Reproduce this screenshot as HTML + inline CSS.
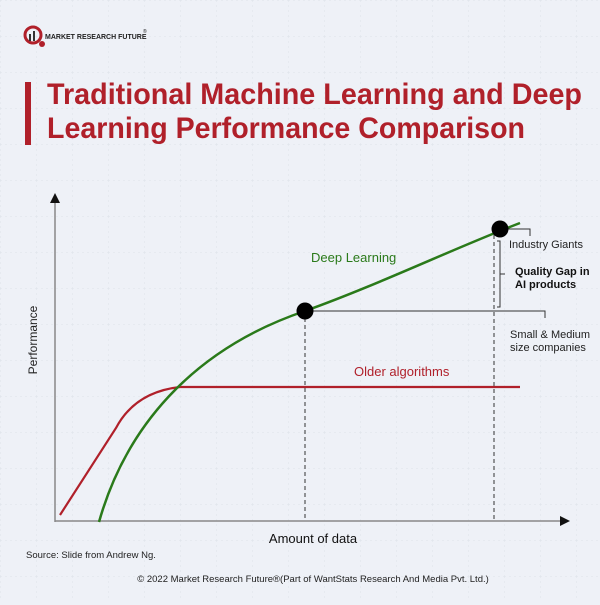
<!DOCTYPE html>
<html><head><meta charset="utf-8"><style>
body{margin:0;width:600px;height:600px;overflow:hidden;background:#eef1f7;font-family:"Liberation Sans",sans-serif}
</style></head><body>
<svg width="600" height="600" viewBox="0 0 600 600" xmlns="http://www.w3.org/2000/svg">
<defs><pattern id="g" width="36" height="36" patternUnits="userSpaceOnUse"><path d="M0 0H36M0 0V36" stroke="#dde2ea" stroke-width="1" stroke-dasharray="2 3" fill="none"/></pattern></defs>
<rect width="600" height="600" fill="#eef1f7"/>
<rect width="600" height="600" fill="url(#g)"/>
<circle cx="33" cy="35" r="8" fill="none" stroke="#b0202a" stroke-width="3"/>
<rect x="29" y="34" width="2" height="7" fill="#333"/><rect x="33" y="31" width="2" height="10" fill="#333"/>
<circle cx="42" cy="44" r="3" fill="#b0202a"/>
<text x="45" y="39" font-size="7" font-weight="bold" fill="#222">MARKET RESEARCH FUTURE</text>
<text x="143" y="33" font-size="5" fill="#222">®</text>
<rect x="25" y="82" width="6" height="63" fill="#b0202a"/>
<text x="47" y="104" font-size="30" font-weight="bold" fill="#b0202a" textLength="535" lengthAdjust="spacingAndGlyphs">Traditional Machine Learning and Deep</text>
<text x="47" y="138" font-size="30" font-weight="bold" fill="#b0202a" textLength="478" lengthAdjust="spacingAndGlyphs">Learning Performance Comparison</text>
<line x1="55" y1="200" x2="55" y2="522" stroke="#888" stroke-width="1.5"/>
<path d="M50 203L55 193L60 203Z" fill="#111"/>
<line x1="55" y1="521" x2="562" y2="521" stroke="#888" stroke-width="1.5"/>
<path d="M560 516L570 521L560 526Z" fill="#111"/>
<text transform="translate(37,340) rotate(-90)" font-size="12" fill="#222" text-anchor="middle">Performance</text>
<text x="313" y="543" font-size="13" fill="#111" text-anchor="middle">Amount of data</text>
<line x1="305" y1="311" x2="305" y2="521" stroke="#333" stroke-dasharray="4 3"/>
<line x1="494" y1="235" x2="494" y2="521" stroke="#333" stroke-dasharray="4 3"/>
<path d="M60 515L116 428Q135 392 180 387L520 387" fill="none" stroke="#b0202a" stroke-width="2.2"/>
<path d="M99 522C125 430 190 350 305 311C380 284 450 250 520 223" fill="none" stroke="#2a7a1a" stroke-width="2.5"/>
<path d="M305 311H545V318" fill="none" stroke="#333"/>
<path d="M500 229H530V236" fill="none" stroke="#333"/>
<path d="M497 241H500V307H497M500 274H505" fill="none" stroke="#333"/>
<circle cx="305" cy="311" r="8.5" fill="#000"/>
<circle cx="500" cy="229" r="8.5" fill="#000"/>
<text x="311" y="262" font-size="13" fill="#2a7a1a">Deep Learning</text>
<text x="354" y="376" font-size="13" fill="#b0202a">Older algorithms</text>
<text x="509" y="248" font-size="11" fill="#222">Industry Giants</text>
<text x="515" y="275" font-size="11" font-weight="bold" fill="#111">Quality Gap in</text>
<text x="515" y="288" font-size="11" font-weight="bold" fill="#111">AI products</text>
<text x="510" y="338" font-size="11" fill="#222">Small &amp; Medium</text>
<text x="510" y="351" font-size="11" fill="#222">size companies</text>
<text x="26" y="558" font-size="9.5" fill="#222">Source: Slide from Andrew Ng.</text>
<text x="313" y="582" font-size="9.5" fill="#222" text-anchor="middle">© 2022 Market Research Future®(Part of WantStats Research And Media Pvt. Ltd.)</text>
</svg>
</body></html>
